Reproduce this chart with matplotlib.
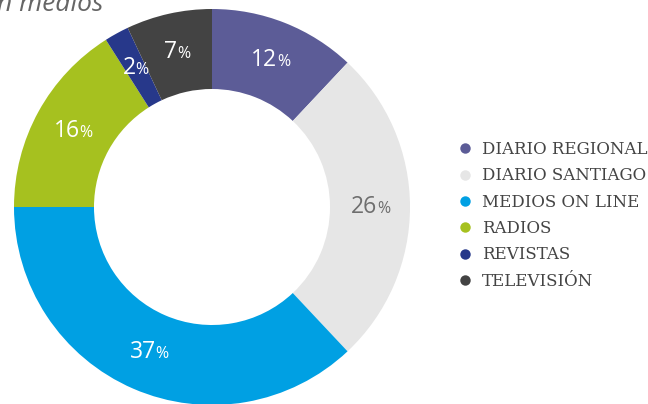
import matplotlib
matplotlib.use("Agg")
import matplotlib.pyplot as plt
import numpy as np
from matplotlib.offsetbox import TextArea, HPacker, AnnotationBbox
from matplotlib.lines import Line2D

categories = ["DIARIO REGIONAL", "DIARIO SANTIAGO", "MEDIOS ON LINE", "RADIOS", "REVISTAS", "TELEVISIÓN"]
values = [12, 26, 37, 16, 2, 7]
colors = ["#5c5c97", "#e6e6e6", "#00a0e3", "#a6c11f", "#27388a", "#434343"]
label_colors = ["white", "#6e6e6e", "white", "white", "white", "white"]

W, H = 648, 404
fig = plt.figure(figsize=(W / 100, H / 100), dpi=100)
cx, cy, R = 212, 207, 198
ax = fig.add_axes([(cx - R) / W, (H - cy - R) / H, 2 * R / W, 2 * R / H])
ax.axis("off")

wedges, _ = ax.pie(values, colors=colors, startangle=90, counterclock=False,
                   radius=1, wedgeprops=dict(width=0.404, linewidth=0))
ax.set_xlim(-1, 1)
ax.set_ylim(-1, 1)

total = sum(values)
start = 90.0
for v, lc in zip(values, label_colors):
    mid = start - v / total * 360 / 2
    start -= v / total * 360
    r = 0.8
    x, y = r * np.cos(np.radians(mid)), r * np.sin(np.radians(mid))
    num = TextArea(str(v), textprops=dict(size=16.5, color=lc, family="Open Sans"))
    pct = TextArea("%", textprops=dict(size=11.5, color=lc, family="Open Sans"))
    box = HPacker(children=[num, pct], align="baseline", pad=0, sep=0)
    ab = AnnotationBbox(box, (x, y), frameon=False, box_alignment=(0.5, 0.5), pad=0)
    ax.add_artist(ab)

fig.text(-3 / W, 1 - 11 / H, "n medios", ha="left", va="baseline", fontsize=19,
         style="italic", color="#666666", family="Open Sans")

handles = [Line2D([0], [0], marker="o", linestyle="none", markersize=7.5,
                  markerfacecolor=c, markeredgewidth=0) for c in colors]
leg = fig.legend(handles, categories, loc="upper left",
                 bbox_to_anchor=(459 / W, 1 - 141 / H), frameon=False,
                 prop=dict(family="DejaVu Serif", size=12),
                 handlelength=0.7, handletextpad=0.7, labelspacing=0.56,
                 borderpad=0, borderaxespad=0)
for t in leg.get_texts():
    t.set_color("#444444")

fig.savefig("out.png", dpi=100)
